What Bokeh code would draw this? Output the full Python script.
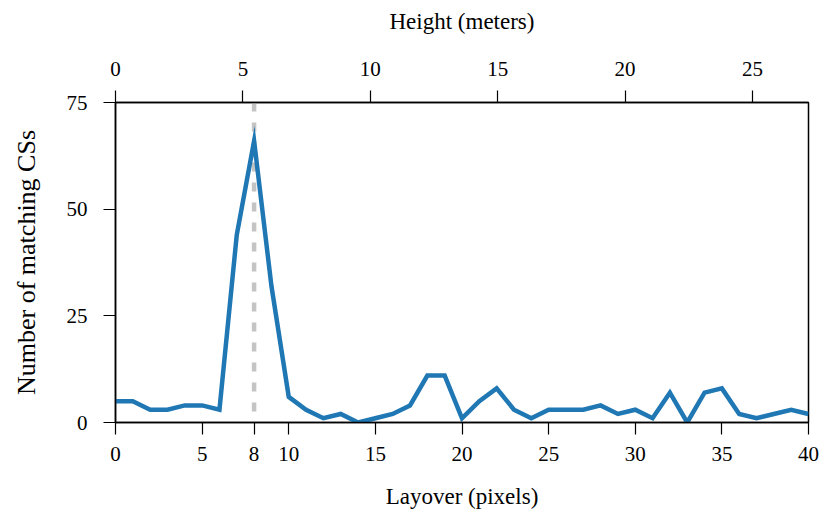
from bokeh.plotting import figure
from bokeh.models import Range1d, LinearAxis, FixedTicker, Span, ColumnDataSource
from bokeh.embed import file_html
from bokeh.resources import INLINE

# ---- data ----
layover_px = list(range(0, 41))
matching_css = [5, 5, 3, 3, 4, 4, 3, 44, 66, 32, 6, 3, 1, 2, 0, 1, 2, 4, 11, 11,
                1, 5, 8, 3, 1, 3, 3, 3, 4, 2, 3, 1, 7, 0, 7, 8, 2, 1, 2, 3, 2]
bottom_ticks = [0, 5, 8, 10, 15, 20, 25, 30, 35, 40]
top_ticks = [0, 5, 10, 15, 20, 25]
left_ticks = [0, 25, 50, 75]
marker_px = 8
meters_per_px = 0.68
x_max = 40
y_max = 75

FONT = "Liberation Serif"

src = ColumnDataSource(dict(x=layover_px, y=matching_css))

p = figure(frame_width=693, frame_height=320,
           x_range=Range1d(0, x_max), y_range=Range1d(0, y_max),
           output_backend="svg", toolbar_location=None,
           x_axis_location=None, y_axis_location=None,
           min_border_left=115, min_border_top=102, min_border_bottom=90,
           min_border_right=12)
p.background_fill_color = "white"
p.border_fill_color = "white"
p.outline_line_color = "black"
p.outline_line_width = 1.5
p.grid.visible = False

p.extra_x_ranges = {"height": Range1d(0, x_max * meters_per_px)}

span = Span(location=marker_px, dimension="height", line_color="#c4c4c4",
            line_width=4.5, line_dash="9 11", level="underlay")
p.add_layout(span)

p.line("x", "y", source=src, line_color="#1f77b4", line_width=4.5,
       line_join="miter")

bottom_axis = LinearAxis(axis_label="Layover (pixels)",
                         ticker=FixedTicker(ticks=bottom_ticks))
top_axis = LinearAxis(x_range_name="height", axis_label="Height (meters)",
                      ticker=FixedTicker(ticks=top_ticks))
left_axis = LinearAxis(axis_label="Number of matching CSs",
                       ticker=FixedTicker(ticks=left_ticks))
p.add_layout(bottom_axis, "below")
p.add_layout(top_axis, "above")
p.add_layout(left_axis, "left")

for ax in [bottom_axis, top_axis, left_axis]:
    ax.major_tick_in = 0
    ax.major_tick_out = 12
    ax.minor_tick_line_color = None
    ax.major_tick_line_color = "black"
    ax.major_tick_line_width = 1.2
    ax.axis_line_color = "black"
    ax.axis_line_width = 1.5
    ax.major_label_text_font = FONT
    ax.major_label_text_font_size = "21px"
    ax.major_label_text_color = "black"
    ax.axis_label_text_font = FONT
    ax.axis_label_text_font_size = "23px"
    ax.axis_label_text_font_style = "normal"
    ax.axis_label_text_color = "black"

top_axis.major_label_standoff = 15
top_axis.axis_label_standoff = 25
bottom_axis.major_label_standoff = 12
bottom_axis.axis_label_standoff = 20
left_axis.major_label_standoff = 16
left_axis.axis_label_standoff = 23
left_axis.axis_label_text_font_size = "26px"

open("out.html", "w").write(file_html(p, INLINE))
